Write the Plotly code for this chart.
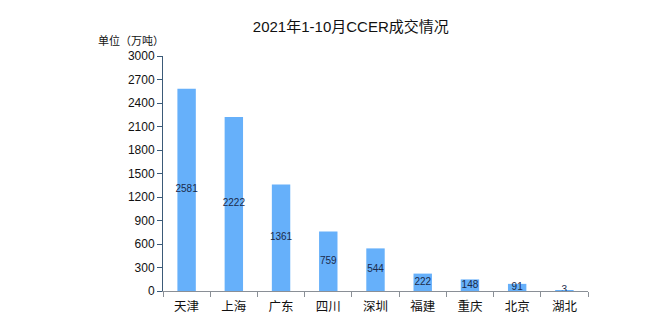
import plotly.graph_objects as go

categories = ["天津", "上海", "广东", "四川", "深圳", "福建", "重庆", "北京", "湖北"]
values = [2581, 2222, 1361, 759, 544, 222, 148, 91, 3]
y_ticks = [0, 300, 600, 900, 1200, 1500, 1800, 2100, 2400, 2700, 3000]

cjk = "Noto Sans CJK SC, Liberation Sans, Arial, sans-serif"
num = "Liberation Sans, Arial, Noto Sans CJK SC, sans-serif"

fig = go.Figure()
fig.add_trace(go.Bar(
    x=categories, y=values,
    marker=dict(color="#66b0fa", line=dict(width=0)),
    width=0.39,
    textposition="none",
    hoverinfo="x+y",
))
fig.add_trace(go.Scatter(
    x=categories, y=[v / 2 for v in values],
    mode="text", text=[str(v) for v in values],
    textfont=dict(family=num, size=10, color="#1a2a4a"),
    textposition="middle center",
    hoverinfo="skip",
))

fig.update_layout(
    width=672, height=334,
    margin=dict(l=163, r=84, t=56, b=43),
    paper_bgcolor="white", plot_bgcolor="white",
    showlegend=False,
    title=dict(text="2021年1-10月CCER成交情况", x=0.522, xanchor="center",
               y=0.92, yanchor="middle",
               font=dict(family=num, size=15, color="#111111")),
    xaxis=dict(
        showgrid=False, showline=True, linecolor="#8a8f96", linewidth=1,
        ticks="outside", tickson="boundaries", ticklen=5, tickcolor="#8a8f96",
        tickfont=dict(family=cjk, size=12.5, color="#111111"),
        ticklabelstandoff=4,
        range=[-0.5, 8.5],
    ),
    yaxis=dict(
        range=[0, 3000], tickvals=y_ticks, showgrid=False, zeroline=False,
        showline=True, linecolor="#3b5a78", linewidth=1,
        ticks="outside", ticklen=5, tickcolor="#3b5a78",
        tickfont=dict(family=num, size=12, color="#111111"),
    ),
    annotations=[dict(
        text="单位（万吨）", xref="paper", yref="paper", x=-0.075, y=1.0,
        xanchor="center", yanchor="bottom", yshift=6, showarrow=False,
        font=dict(family=cjk, size=11, color="#111111"),
    )],
)

fig.write_html("out.html")
